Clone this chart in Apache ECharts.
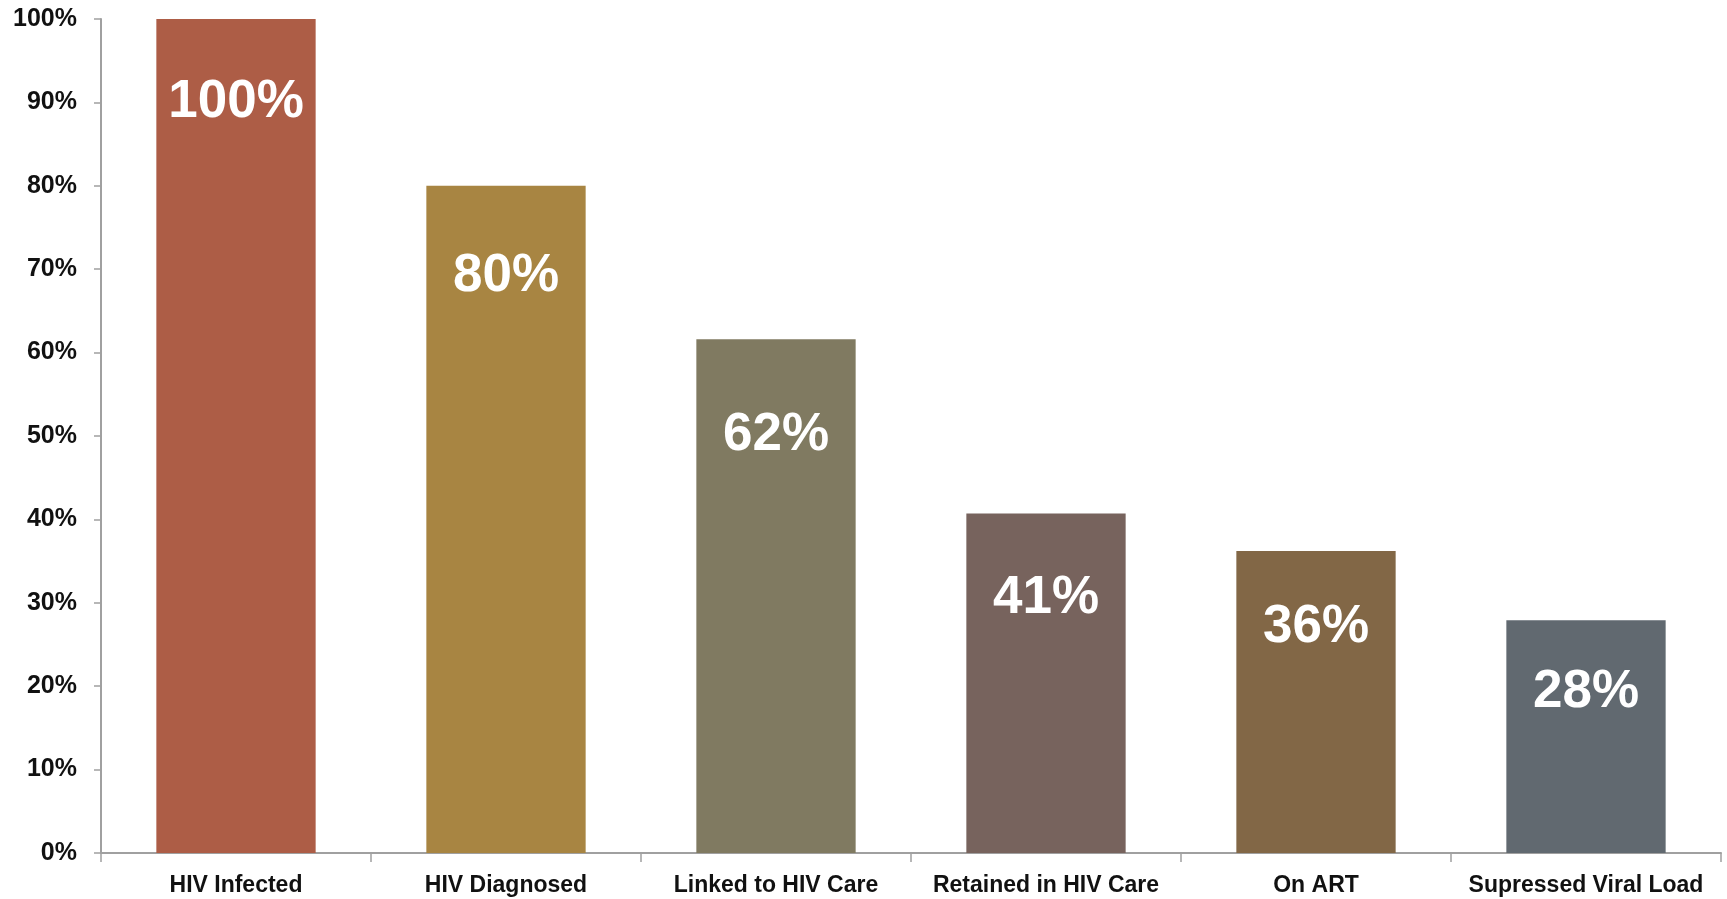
<!DOCTYPE html>
<html>
<head>
<meta charset="utf-8">
<script src="https://cdn.jsdelivr.net/npm/echarts@6/dist/echarts.min.js"></script>
<style>
html,body{margin:0;padding:0;background:#fff;}
#chart{width:1727px;height:899px;}
</style>
</head>
<body>
<div id="chart"></div>
<script>
var categories = ['HIV Infected','HIV Diagnosed','Linked to HIV Care','Retained in HIV Care','On ART','Supressed Viral Load'];
var values = [100, 80, 61.6, 40.7, 36.2, 27.9];
var yTicks = [0,10,20,30,40,50,60,70,80,90,100];

var barColors = ['#AD5D46','#A88542','#807A61','#77635D','#826746','#616970'];
var labelDistances = [57, 64, 70, 58, 50, 46];

var chart = echarts.init(document.getElementById('chart'));
var data = values.map(function(v,i){
  return {
    value: v,
    itemStyle: {color: barColors[i]},
    label: {distance: labelDistances[i]}
  };
});
chart.setOption({
  backgroundColor:'#fff',
  animation:false,
  grid:{left:101, right:6, top:19, bottom:46, containLabel:false},
  xAxis:{
    type:'category',
    data:categories,
    axisLine:{lineStyle:{color:'#a0a0a0', width:2}},
    axisTick:{show:true, interval:0, length:9, lineStyle:{color:'#a0a0a0', width:1.5}},
    axisLabel:{interval:0, color:'#111', fontSize:23, fontWeight:'bold', fontFamily:'Liberation Sans, Arial, sans-serif', margin:21}
  },
  yAxis:{
    type:'value',
    min:yTicks[0], max:yTicks[yTicks.length-1], interval:10,
    axisLine:{show:true, lineStyle:{color:'#a0a0a0', width:2}},
    axisTick:{show:true, length:7, lineStyle:{color:'#a0a0a0', width:1.5}},
    splitLine:{show:false},
    axisLabel:{color:'#111', fontSize:25, fontWeight:'bold', fontFamily:'Liberation Sans, Arial, sans-serif', margin:24, formatter:'{value}%'}
  },
  series:[{
    type:'bar',
    data:data,
    barWidth:'59%',
    label:{
      show:true,
      position:'insideTop',
      color:'#fff',
      fontSize:53,
      lineHeight:53,
      fontWeight:'bold',
      fontFamily:'Liberation Sans, Arial, sans-serif',
      formatter:function(p){return Math.round(p.value)+'%';}
    }
  }]
});
</script>
</body>
</html>
